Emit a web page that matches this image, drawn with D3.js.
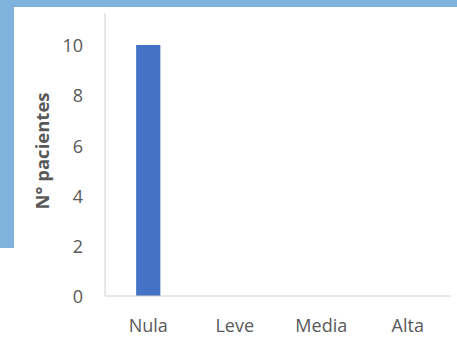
<!DOCTYPE html>
<html>
<head>
<meta charset="utf-8">
<script src="https://cdn.jsdelivr.net/npm/d3@7"></script>
<style>
  html, body { margin: 0; padding: 0; background: #ffffff; }
  svg { display: block; }
</style>
</head>
<body>
<svg id="chart" width="457" height="338"></svg>
<script>
// Patients by severity level
const categories = ["Nula", "Leve", "Media", "Alta"];
const patients = [10, 0, 0, 0];
const yTicks = [0, 2, 4, 6, 8, 10];
const yTitle = "N° pacientes";

const svg = d3.select("#chart");
const W = 457, H = 338;

// slide background: blue frame behind the white chart panel
svg.append("rect").attr("x", 0).attr("y", 0).attr("width", W).attr("height", H).attr("fill", "#ffffff");
svg.append("rect").attr("x", 0).attr("y", 0).attr("width", W).attr("height", 7).attr("fill", "#7fb3de");
svg.append("rect").attr("x", 0).attr("y", 0).attr("width", 14).attr("height", 248).attr("fill", "#7fb3de");

const plot = { left: 105, right: 451, top: 13, bottom: 296 };

const x = d3.scaleBand()
  .domain(categories)
  .range([plot.left, plot.right])
  .paddingInner(0.72)
  .paddingOuter(0.36);

const y = d3.scaleLinear()
  .domain([0, 10])
  .range([plot.bottom, 45]);

// bars
svg.append("g")
  .selectAll("rect")
  .data(categories.map((c, i) => ({ c, v: patients[i] })))
  .join("rect")
  .attr("x", d => x(d.c))
  .attr("y", d => y(d.v))
  .attr("width", x.bandwidth())
  .attr("height", d => y(0) - y(d.v))
  .attr("fill", "#4472c4");

// axis lines
svg.append("line")
  .attr("x1", plot.left).attr("x2", plot.left)
  .attr("y1", plot.top).attr("y2", plot.bottom)
  .attr("stroke", "#d0d0d0").attr("stroke-width", 1);
svg.append("line")
  .attr("x1", plot.left).attr("x2", plot.right)
  .attr("y1", plot.bottom).attr("y2", plot.bottom)
  .attr("stroke", "#d0d0d0").attr("stroke-width", 1);

// y tick labels
const yAxis = d3.axisLeft(y).tickValues(yTicks).tickSize(0).tickPadding(0);
const gy = svg.append("g").attr("transform", "translate(83,1)").call(yAxis);
gy.select(".domain").remove();
gy.selectAll("text")
  .attr("fill", "#595959")
  .style("font-family", "'Open Sans', sans-serif")
  .style("font-size", "18px");

// x tick labels
const xAxis = d3.axisBottom(x).tickSize(0).tickPadding(0);
const gx = svg.append("g").attr("transform", "translate(0,319)").call(xAxis);
gx.select(".domain").remove();
gx.selectAll("text")
  .attr("fill", "#595959")
  .style("font-family", "'Open Sans', sans-serif")
  .style("font-size", "18px");

// y axis title
svg.append("text")
  .attr("transform", "translate(41,151) rotate(-90)")
  .attr("text-anchor", "middle")
  .attr("dominant-baseline", "central")
  .attr("fill", "#595959")
  .style("font-family", "'Open Sans', sans-serif")
  .style("font-weight", "bold")
  .style("font-size", "18.5px")
  .text(yTitle);
</script>
</body>
</html>
